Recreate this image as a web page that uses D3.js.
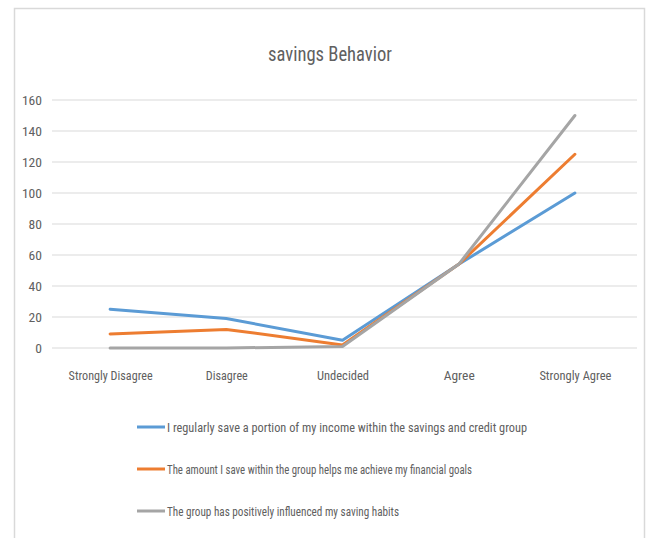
<!DOCTYPE html>
<html><head><meta charset="utf-8">
<script src="https://cdn.jsdelivr.net/npm/d3@7"></script>
<style>
body{margin:0;background:#fff;}
text{font-family:"Liberation Sans Narrow","Roboto Condensed","Liberation Sans",Arial,sans-serif;fill:#595959;}
</style></head>
<body><svg id="c" width="647" height="538"></svg>
<script>
const title = "savings Behavior";
const categories = ["Strongly Disagree","Disagree","Undecided","Agree","Strongly Agree"];
const yTicks = [0,20,40,60,80,100,120,140,160];
const seriesNames = [
  "I regularly save a portion of my income within the savings and credit group",
  "The amount  I save within the group helps me achieve my financial goals",
  "The group has positively influenced my saving habits"
];
const series1 = [25, 19, 5, 54, 100];
const series2 = [9, 12, 2, 54, 125];
const series3 = [0, 0, 1, 54, 150];
const colors = ["#5B9BD5","#ED7D31","#A5A5A5"];

const svg = d3.select("#c");
svg.append("rect").attr("x",14.5).attr("y",8.5).attr("width",630).attr("height",540)
  .attr("fill","#fff").attr("stroke","#D9D9D9").attr("stroke-width",1.5);

const x = d3.scalePoint().domain(categories).range([52,633]).padding(0.5);
const y = d3.scaleLinear().domain([0,160]).range([348,100]);

// gridlines
svg.append("g").selectAll("line").data(yTicks).join("line")
  .attr("x1",52).attr("x2",637).attr("y1",d=>y(d)).attr("y2",d=>y(d))
  .attr("stroke","#D9D9D9").attr("stroke-width",1);

// y axis labels
const yAxis = svg.append("g").attr("transform","translate(48,0)")
  .call(d3.axisLeft(y).tickValues(yTicks).tickSize(0).tickPadding(6));
yAxis.select(".domain").remove();
yAxis.selectAll("text").attr("font-size",13).style("fill","#606060")
  .attr("textLength",d=>String(d).length*6.7).attr("lengthAdjust","spacingAndGlyphs");

// x axis labels
const catW = {"Strongly Disagree":84,"Disagree":42,"Undecided":52,"Agree":31,"Strongly Agree":72};
const xAxis = svg.append("g").attr("transform","translate(0,368)")
  .call(d3.axisBottom(x).tickSize(0).tickPadding(0));
xAxis.select(".domain").remove();
xAxis.selectAll("text").attr("font-size",13).attr("dy","0.9em").style("fill","#606060")
  .attr("textLength",d=>catW[d]).attr("lengthAdjust","spacingAndGlyphs");

// lines
const all = [series1, series2, series3];
const line = d3.line().x((d,i)=>x(categories[i])).y(d=>y(d));
const drawOrder = [0,1,2];
svg.append("g").selectAll("path").data(drawOrder).join("path")
  .attr("d",i=>line(all[i])).attr("fill","none").attr("stroke",i=>colors[i])
  .attr("stroke-width",3).attr("stroke-linejoin","round").attr("stroke-linecap","round");

// title
svg.append("text").attr("x",330).attr("y",61).attr("text-anchor","middle")
  .attr("font-size",20).attr("textLength",124).attr("lengthAdjust","spacingAndGlyphs")
  .style("fill","#606060").text(title);

// legend
const legW = [360,305,232];
const leg = svg.append("g").selectAll("g").data(seriesNames).join("g")
  .attr("transform",(d,i)=>`translate(137,${427 + i*42})`);
leg.append("line").attr("x1",0).attr("x2",28).attr("y1",0).attr("y2",0)
  .attr("stroke",(d,i)=>colors[i]).attr("stroke-width",3);
leg.append("text").attr("x",30).attr("y",0).attr("dy","0.35em").attr("font-size",13)
  .attr("textLength",(d,i)=>legW[i]).attr("lengthAdjust","spacingAndGlyphs")
  .style("fill","#606060").text(d=>d);
</script></body></html>
